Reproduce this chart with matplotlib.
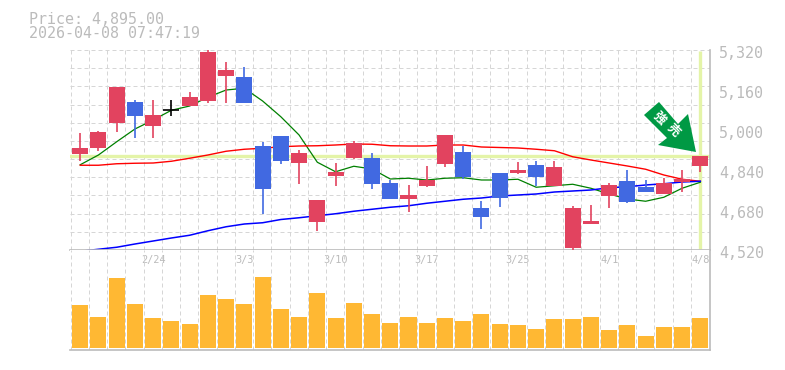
import numpy as np
import matplotlib
matplotlib.use("Agg")
from matplotlib import pyplot as plt
from matplotlib.patches import Polygon

plt.rcParams['font.family'] = ['DejaVu Sans Mono', 'Noto Sans CJK JP']

# candles, oldest first
opens = [4904, 4928, 5028, 5112, 5016, 5079, 5096, 5116, 5216, 5212, 4936, 4976, 4868, 4632, 4816, 4888, 4888, 4788,
         4724, 4776, 4864, 4912, 4688, 4828, 4828, 4860, 4776, 4528, 4624, 4736, 4796, 4772, 4744, 4792, 4856]
highs = [4988, 4996, 5172, 5120, 5120, 5120, 5152, 5320, 5272, 5252, 4952, 4976, 4920, 4720, 4868, 4956, 4908, 4800,
         4780, 4856, 4980, 4936, 4716, 4828, 4872, 4876, 4876, 4696, 4700, 4788, 4840, 4800, 4808, 4840, 4896]
lows = [4877, 4916, 4992, 4968, 4968, 5056, 5096, 5108, 5108, 5108, 4664, 4865, 4784, 4596, 4776, 4884, 4764, 4724,
        4672, 4772, 4852, 4804, 4604, 4692, 4824, 4776, 4776, 4516, 4624, 4688, 4708, 4752, 4744, 4752, 4832]
closes = [4928, 4992, 5172, 5056, 5060, 5079, 5132, 5312, 5240, 5108, 4764, 4876, 4908, 4720, 4832, 4948, 4784, 4724,
          4740, 4800, 4980, 4812, 4652, 4728, 4840, 4812, 4852, 4688, 4636, 4780, 4712, 4752, 4788, 4803, 4895]
volume = [43, 31, 70, 44, 30, 27, 24, 53, 49, 44, 71, 39, 31, 55, 30, 45, 34, 25,
          31, 25, 30, 27, 34, 24, 23, 19, 29, 29, 31, 18, 23, 12, 21, 21, 30]

ma_short = [4861, 4900, 4953, 5004, 5040, 5079, 5096, 5131, 5160, 5167, 5116, 5053, 4980, 4871, 4833, 4855, 4844, 4804,
            4807, 4800, 4807, 4809, 4800, 4800, 4803, 4771, 4777, 4783, 4767, 4744, 4724, 4715, 4731, 4767, 4791]
ma_mid = [4859, 4859, 4865, 4867, 4868, 4875, 4887, 4900, 4915, 4923, 4927, 4933, 4936, 4937, 4940, 4944, 4943, 4937,
          4936, 4936, 4940, 4940, 4932, 4930, 4928, 4923, 4917, 4893, 4880, 4868, 4856, 4843, 4820, 4803, 4795]
ma_long = [4515, 4523, 4531, 4544, 4556, 4568, 4579, 4597, 4613, 4624, 4629, 4642, 4649, 4657, 4665, 4675, 4683, 4691,
           4697, 4707, 4715, 4723, 4728, 4736, 4740, 4744, 4752, 4756, 4760, 4769, 4773, 4780, 4785, 4792, 4795]

price_ticks = [4520, 4680, 4840, 5000, 5160, 5320]
date_pos = [4, 9, 14, 19, 24, 29, 34]
date_labels = ['2/24', '3/3', '3/10', '3/17', '3/25', '4/1', '4/8']
last_price = 4895

RED = '#E2435F'
BLUE = '#4169E1'
GRAY = '#BBBBBB'
GRID = '#D6D6D6'
W, H = 785, 370

fig = plt.figure(figsize=(7.85, 3.7), dpi=100)
ax = fig.add_axes([70 / W, 1 - 250 / H, 640 / W, 200 / H])
vol = fig.add_axes([70 / W, 1 - 350 / H, 640 / W, 100 / H])

x = np.arange(len(opens))
xmin, xmax = -0.56, 34.53

for a in (ax, vol):
    a.set_xlim(xmin, xmax)
    a.set_xticks(np.arange(35) - 0.52, minor=True)
    a.grid(True, which='minor', axis='x', color=GRID, ls=(0, (4, 3)), lw=0.72)
    a.tick_params(which='both', length=0)
    a.set_axisbelow(True)
    for s in ('left', 'top'):
        a.spines[s].set_visible(False)
    for s in ('right', 'bottom'):
        a.spines[s].set_color(GRAY)
        a.spines[s].set_linewidth(1.2)

# price panel
ax.set_ylim(4520, 5320)
ax.set_yticks(np.linspace(4520, 5320, 12)[:-1], minor=True)
ax.set_yticks(np.linspace(4520, 5320, 12)[-1:])
ax.set_yticklabels([])
ax.grid(True, which='both', axis='y', color=GRID, ls=(0, (4, 3)), lw=0.72)
ax.set_xticks([])

ax.axhline(last_price, color='#E4F4A8', lw=2.4, zorder=1.5)
ax.plot([x[-1], x[-1]], [4524, 5316], color='#E4F4A8', lw=2.4, zorder=1.5, solid_capstyle='butt')

ax.plot(x, ma_short, color='#008000', lw=0.9, zorder=2)
ax.plot(x, ma_mid, color='#FF0000', lw=1, zorder=2)
ax.plot(x, ma_long, color='#0000FF', lw=1.1, zorder=2, clip_on=False)

for i in x:
    if closes[i] == opens[i]:
        c = 'black'
    elif closes[i] > opens[i]:
        c = RED
    else:
        c = BLUE
    ax.plot([i, i], [lows[i], highs[i]], color=c, lw=1.2, zorder=3, solid_capstyle='butt')
    if closes[i] == opens[i]:
        ax.plot([i - 0.44, i + 0.44], [opens[i], opens[i]], color=c, lw=1.2, zorder=3, solid_capstyle='butt')
    else:
        ax.bar(i, abs(closes[i] - opens[i]), bottom=min(opens[i], closes[i]), width=0.88, color=c, zorder=3)

for p in price_ticks:
    ax.annotate(f'{p:,}', (1, p), xycoords=('axes fraction', 'data'), xytext=(9, -4), textcoords='offset pixels',
                fontsize=10.8, color=GRAY, ha='left', va='center', annotation_clip=False)

# sell signal arrow, in pixel coordinates of the figure
arrow = [(659, 102), (678, 124), (688, 114), (696, 152), (658, 145), (667, 138), (644, 115)]
fig.add_artist(Polygon([(px / W, 1 - py / H) for px, py in arrow], closed=True, transform=fig.transFigure,
                       facecolor='#009944', edgecolor='none', zorder=5))
fig.text(659 / W, 1 - 118 / H, '強', color='white', fontsize=9, rotation=-45, ha='center', va='center',
         weight='bold', zorder=6)
fig.text(673 / W, 1 - 130 / H, '売', color='white', fontsize=9, rotation=-45, ha='center', va='center',
         weight='bold', zorder=6)

# volume panel
vol.set_ylim(-2, 98)
vol.set_yticks([])
vol.bar(x, volume, width=0.88, color='#FFB833', zorder=3)
vol.set_xticks(date_pos)
vol.set_xticklabels(date_labels, fontsize=7.4, color=GRAY)
vol.xaxis.set_ticks_position('top')
vol.tick_params(axis='x', which='major', direction='in', pad=-11)

fig.text(29 / W, 1 - 19 / H, 'Price: 4,895.00', fontsize=10.8, color=GRAY, ha='left', va='center')
fig.text(29 / W, 1 - 33 / H, '2026-04-08 07:47:19', fontsize=10.8, color=GRAY, ha='left', va='center')

fig.savefig('out.png', dpi=100)
